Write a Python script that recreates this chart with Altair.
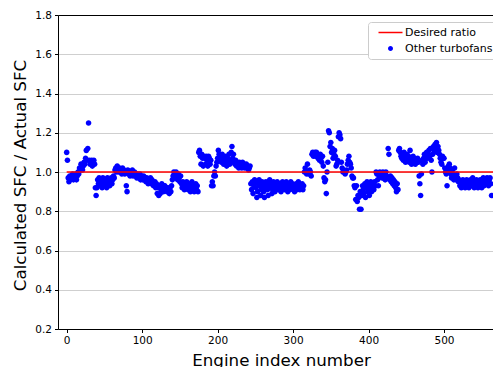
import altair as alt
import pandas as pd

# Calculated SFC / Actual SFC for each engine index
ratios = [
    1.10, 1.06, 0.97, 0.95, 0.98, 0.96, 0.98, 0.97, 0.99, 0.96,
    0.98, 0.97, 0.99, 0.96, 0.98, 1.00, 0.99, 1.02, 1.01, 1.04,
    1.02, 1.01, 1.03, 1.05, 1.04, 1.07, 1.11, 1.06, 1.12, 1.25,
    1.06, 1.04, 1.05, 1.06, 1.03, 1.05, 1.06, 1.04, 0.92, 0.88,
    0.92, 0.96, 0.94, 0.97, 0.93, 0.96, 0.95, 0.92, 0.97, 0.94,
    0.96, 0.93, 0.95, 0.92, 0.97, 0.94, 0.96, 0.93, 0.95, 0.97,
    0.94, 0.96, 0.98, 0.97, 1.01, 1.02, 1.00, 1.03, 1.01, 1.00,
    1.02, 1.00, 1.01, 0.99, 1.02, 1.00, 1.01, 0.99, 1.00, 0.93,
    0.90, 1.01, 0.99, 1.00, 0.98, 1.00, 0.99, 1.01, 0.98, 0.99,
    1.00, 0.98, 0.99, 0.97, 0.99, 0.98, 0.97, 0.99, 0.96, 0.98,
    0.97, 0.96, 0.98, 0.96, 0.97, 0.95, 0.97, 0.96, 0.94, 0.96,
    0.95, 0.97, 0.94, 0.96, 0.95, 0.93, 0.94, 0.95, 0.92, 0.94,
    0.89, 0.92, 0.88, 0.93, 0.89, 0.91, 0.94, 0.92, 0.90, 0.93,
    0.93, 0.91, 0.92, 0.90, 0.92, 0.91, 0.89, 0.92, 0.90, 0.93,
    0.96, 0.98, 1.00, 0.99, 0.97, 1.00, 0.98, 0.96, 0.99, 0.97,
    0.95, 0.98, 0.94, 0.92, 0.95, 0.93, 0.91, 0.94, 0.92, 0.95,
    0.93, 0.91, 0.94, 0.92, 0.90, 0.93, 0.95, 0.91, 0.93, 0.90,
    0.92, 0.94, 0.91, 0.93, 0.90, 1.10, 1.11, 1.08, 1.04, 1.09,
    1.07, 1.03, 1.08, 1.07, 1.04, 1.08, 1.06, 1.03, 1.08, 1.07,
    1.04, 1.06, 0.93, 0.95, 0.93, 0.98, 1.00, 0.98, 1.03, 1.05,
    1.07, 1.11, 1.09, 1.06, 1.08, 1.05, 1.09, 1.07, 1.04, 1.06,
    1.08, 1.05, 1.03, 1.07, 1.05, 1.09, 1.04, 1.06, 1.10, 1.13,
    1.07, 1.09, 1.05, 1.04, 1.06, 1.03, 1.05, 1.04, 1.02, 1.05,
    1.03, 1.04, 1.02, 1.05, 1.03, 1.04, 1.02, 1.03, 1.04, 1.02,
    1.03, 1.01, 1.02, 1.03, 0.94, 0.91, 0.95, 0.89, 0.93, 0.96,
    0.95, 0.92, 0.87, 0.90, 0.94, 0.96, 0.93, 0.88, 0.91, 0.95,
    0.93, 0.90, 0.87, 0.92, 0.95, 0.94, 0.91, 0.88, 0.93, 0.96,
    0.94, 0.92, 0.89, 0.91, 0.95, 0.93, 0.90, 0.94, 0.92, 0.95,
    0.93, 0.91, 0.94, 0.92, 0.90, 0.93, 0.95, 0.92, 0.94, 0.91,
    0.93, 0.95, 0.92, 0.90, 0.94, 0.91, 0.93, 0.95, 0.92, 0.94,
    0.91, 0.93, 0.90, 0.92, 0.94, 0.91, 0.93, 0.95, 0.92, 0.91,
    0.93, 0.92, 0.94, 0.91, 0.93, 1.00, 1.02, 1.00, 0.99, 1.04,
    1.00, 0.99, 1.01, 1.00, 0.98, 1.09, 1.10, 1.08, 1.09, 1.10,
    1.08, 1.10, 1.09, 1.07, 1.08, 1.06, 1.09, 1.07, 1.05, 1.08,
    1.03, 0.97, 0.95, 0.96, 0.89, 1.00, 1.05, 1.21, 1.20, 1.13,
    1.15, 1.10, 1.12, 1.07, 1.09, 1.11, 1.08, 1.03, 1.04, 1.06,
    1.18, 1.20, 1.19, 1.17, 1.05, 1.02, 1.00, 1.01, 1.00, 0.99,
    1.00, 1.01, 1.04, 1.06, 1.08, 1.05, 1.04, 1.02, 0.98, 0.97,
    0.97, 0.93, 0.92, 0.86, 0.93, 0.85, 0.88, 0.87, 0.81, 0.90,
    0.81, 0.88, 0.93, 0.91, 0.89, 0.94, 0.87, 0.92, 0.95, 0.90,
    0.94, 0.88, 0.92, 0.95, 0.90, 0.93, 0.94, 0.91, 0.95, 0.93,
    1.00, 0.99, 0.96, 0.93, 0.98, 1.00, 0.99, 0.98, 0.97, 1.00,
    0.97, 0.99, 0.96, 1.00, 0.98, 0.97, 1.12, 1.09, 0.96, 0.98,
    0.95, 0.97, 0.94, 0.96, 0.93, 0.95, 0.92, 0.90, 0.94, 0.91,
    1.11, 1.12, 1.10, 1.08, 1.07, 1.09, 1.06, 1.10, 1.08, 1.05,
    1.07, 1.09, 1.06, 1.08, 1.05, 1.11, 1.07, 1.04, 1.06, 1.08,
    1.05, 1.07, 1.04, 1.06, 1.05, 1.07, 1.05, 0.98, 0.94, 0.88,
    0.99, 1.06, 1.04, 1.07, 1.09, 1.05, 1.08, 1.10, 1.07, 1.09,
    1.11, 1.08, 1.12, 1.06, 1.00, 1.09, 1.13, 1.11, 1.14, 1.12,
    1.15, 1.10, 1.13, 1.11, 1.09, 1.07, 1.05, 1.04, 1.08, 1.07,
    1.07, 1.02, 1.00, 0.99, 0.93, 1.01, 1.03, 1.04, 1.02, 0.99,
    0.97, 1.01, 0.99, 0.96, 1.02, 0.98, 0.96, 0.99, 0.97, 0.95,
    0.96, 0.93, 0.95, 0.92, 0.94, 0.96, 0.93, 0.95, 0.92, 0.94,
    0.96, 0.93, 0.95, 0.92, 0.94, 0.96, 0.93, 0.95, 0.97, 0.94,
    0.92, 0.95, 0.93, 0.96, 0.94, 0.92, 0.95, 0.93, 0.96, 0.94,
    0.92, 0.95, 0.97, 0.93, 0.95, 0.96, 0.94, 0.97, 0.95, 0.93,
    0.96, 0.97, 0.94, 0.88,
]
engine_index = list(range(len(ratios)))

desired_x = [0, 600]
desired_y = [1.0, 1.0]

series_names = ["Desired ratio", "Other turbofans"]
series_colors = ["#ff0000", "#0000ff"]

x_ticks = [0, 100, 200, 300, 400, 500]
y_ticks = [0.2, 0.4, 0.6, 0.8, 1.0, 1.2, 1.4, 1.6, 1.8]

pts = pd.DataFrame({"idx": engine_index, "ratio": ratios,
                    "series": ["Other turbofans"] * len(ratios)})
line_df = pd.DataFrame({"idx": desired_x, "ratio": desired_y})

FONT = "DejaVu Sans"
W, H = 435, 314
x_scale = alt.Scale(domain=[-11.5, 564.9], nice=False, zero=False)
y_scale = alt.Scale(domain=[0.2, 1.8], nice=False, zero=False)

dot_path = "M-0.5,0A0.5,0.5,0,1,1,0.5,0A0.5,0.5,0,1,1,-0.5,0Z"
bar_path = "M-2.4,-0.15H2.4V0.15H-2.4Z"

legend = alt.Legend(
    title=None, orient="none", legendX=310, legendY=7,
    padding=5, rowPadding=4, symbolOffset=12, labelOffset=9,
    fillColor="white", strokeColor="#cccccc", cornerRadius=3,
    labelFont=FONT, labelFontSize=11, labelColor="#000000",
    symbolSize=100, symbolStrokeWidth=0, symbolOpacity=1,
)

x_axis_bottom = alt.Axis(
    values=x_ticks, title="Engine index number", grid=False,
    labelFont=FONT, labelFontSize=10.5, labelColor="#000000",
    tickColor="#000000", tickSize=3.5, labelPadding=3,
    domainColor="#000000", domainWidth=1,
    titleFont=FONT, titleFontSize=16.7, titleFontWeight="normal",
    titleColor="#000000", titleX=223, titleY=36, titleBaseline="alphabetic",
    titleAlign="center",
)
x_axis_top = alt.Axis(
    orient="top", title=None, labels=False, ticks=False, grid=False,
    domainColor="#000000", domainWidth=1,
)
y_axis = alt.Axis(
    values=y_ticks, format=".1f", title="Calculated SFC / Actual SFC",
    grid=True, gridColor="#cfcfcf", gridWidth=1.2,
    labelFont=FONT, labelFontSize=10.5, labelColor="#000000",
    tickColor="#000000", tickSize=3.5, labelPadding=3,
    domainColor="#000000", domainWidth=1,
    titleFont=FONT, titleFontSize=16.7, titleFontWeight="normal",
    titleColor="#000000", titleAngle=-90, titleX=-33, titleY=160,
    titleBaseline="alphabetic", titleAlign="center",
)

points = alt.Chart(pts).mark_point(filled=True, opacity=1, size=125).encode(
    x=alt.X("idx:Q", scale=x_scale, axis=x_axis_bottom),
    y=alt.Y("ratio:Q", scale=y_scale, axis=y_axis),
    color=alt.Color("series:N", scale=alt.Scale(domain=series_names, range=series_colors), legend=legend),
    shape=alt.Shape("series:N", scale=alt.Scale(domain=series_names, range=[bar_path, dot_path]), legend=legend),
)

desired = alt.Chart(line_df).mark_line(color="#ff0000", strokeWidth=1.5, clip=True).encode(
    x=alt.X("idx:Q", scale=x_scale, axis=x_axis_top),
    y=alt.Y("ratio:Q", scale=y_scale, axis=y_axis),
)

chart = alt.layer(points, desired).resolve_axis(x="independent").properties(
    width=W, height=H,
    autosize=alt.AutoSizeParams(type="none"),
    padding={"left": 58, "top": 15, "right": 0, "bottom": 38},
).configure_view(stroke=None).configure(background="white")

chart.save("out.html", embed_options={"renderer": "svg", "actions": False})
